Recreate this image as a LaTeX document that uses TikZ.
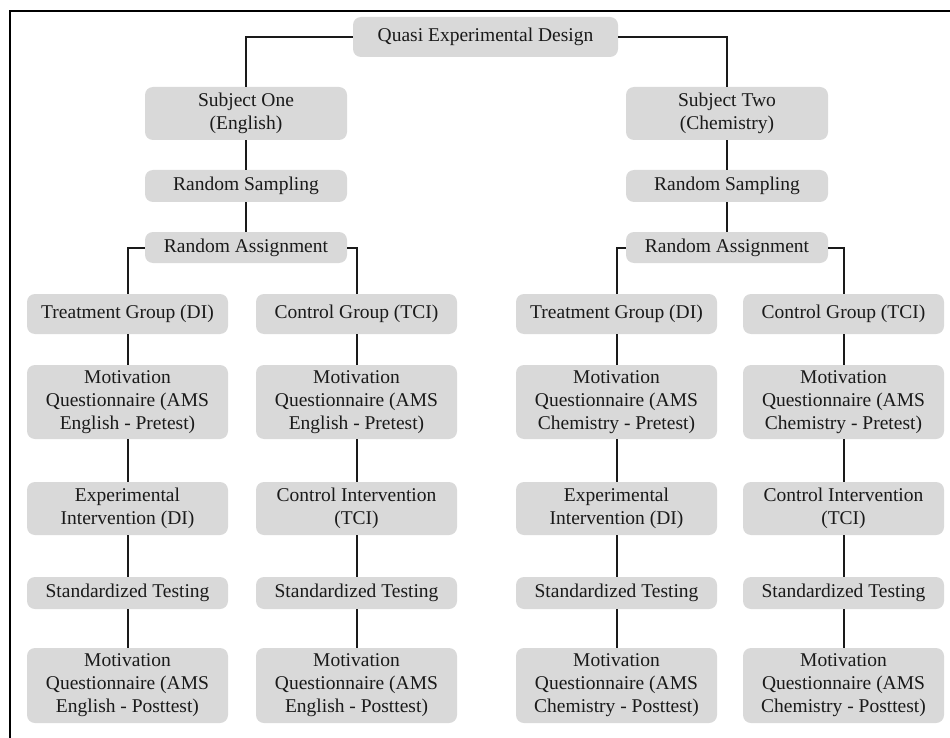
\documentclass[tikz,border=0pt]{standalone}
\usepackage{fontspec}
\setmainfont{Liberation Serif}
\definecolor{boxgray}{HTML}{D9D9D9}
\definecolor{inkgray}{HTML}{1A1A1A}

\begin{document}
\begin{tikzpicture}[x=1pt,y=-1pt,
		box/.style={fill=boxgray,rounded corners=8pt,align=center,inner sep=0pt,text=inkgray,font=\fontsize{19.5}{23}\selectfont},
		col/.style={box,minimum width=201pt},
		link/.style={line width=2pt,inkgray}]
			\useasboundingbox (0,0) rectangle (950,738);
			\draw [line width=2pt] (9.5,738) -- (9.5,11) -- (950,11);

			\node [box,minimum width=265pt,minimum height=40pt] (qed) at (485.5,37) {Quasi Experimental Design};

			% subject one
			\node [box,minimum width=202pt,minimum height=53pt] (subj1) at (246,113.5) {Subject One\\(English)};
			\node [box,minimum width=202pt,minimum height=32pt] (samp1) at (246,186) {Random Sampling};
			\node [box,minimum width=202pt,minimum height=31pt] (assign1) at (246,247.5) {Random Assignment};

			\node [col,minimum height=40pt] (treat1) at (127.5,314) {Treatment Group (DI)};
			\node [col,minimum height=74pt] (pre1t) at (127.5,402) {Motivation\\Questionnaire (AMS\\English - Pretest)};
			\node [col,minimum height=53pt] (int1t) at (127.5,508.5) {Experimental\\Intervention (DI)};
			\node [col,minimum height=32pt] (test1t) at (127.5,593) {Standardized Testing};
			\node [col,minimum height=75pt] (post1t) at (127.5,685.5) {Motivation\\Questionnaire (AMS\\English - Posttest)};

			\node [col,minimum height=40pt] (ctrl1) at (356.5,314) {Control Group (TCI)};
			\node [col,minimum height=74pt] (pre1c) at (356.5,402) {Motivation\\Questionnaire (AMS\\English - Pretest)};
			\node [col,minimum height=53pt] (int1c) at (356.5,508.5) {Control Intervention\\(TCI)};
			\node [col,minimum height=32pt] (test1c) at (356.5,593) {Standardized Testing};
			\node [col,minimum height=75pt] (post1c) at (356.5,685.5) {Motivation\\Questionnaire (AMS\\English - Posttest)};

			% subject two
			\node [box,minimum width=202pt,minimum height=53pt] (subj2) at (727,113.5) {Subject Two\\(Chemistry)};
			\node [box,minimum width=202pt,minimum height=32pt] (samp2) at (727,186) {Random Sampling};
			\node [box,minimum width=202pt,minimum height=31pt] (assign2) at (727,247.5) {Random Assignment};

			\node [col,minimum height=40pt] (treat2) at (616.5,314) {Treatment Group (DI)};
			\node [col,minimum height=74pt] (pre2t) at (616.5,402) {Motivation\\Questionnaire (AMS\\Chemistry - Pretest)};
			\node [col,minimum height=53pt] (int2t) at (616.5,508.5) {Experimental\\Intervention (DI)};
			\node [col,minimum height=32pt] (test2t) at (616.5,593) {Standardized Testing};
			\node [col,minimum height=75pt] (post2t) at (616.5,685.5) {Motivation\\Questionnaire (AMS\\Chemistry - Posttest)};

			\node [col,minimum height=40pt] (ctrl2) at (843.5,314) {Control Group (TCI)};
			\node [col,minimum height=74pt] (pre2c) at (843.5,402) {Motivation\\Questionnaire (AMS\\Chemistry - Pretest)};
			\node [col,minimum height=53pt] (int2c) at (843.5,508.5) {Control Intervention\\(TCI)};
			\node [col,minimum height=32pt] (test2c) at (843.5,593) {Standardized Testing};
			\node [col,minimum height=75pt] (post2c) at (843.5,685.5) {Motivation\\Questionnaire (AMS\\Chemistry - Posttest)};

			% connectors
			\draw [link] (qed.west) -| (subj1.north);
			\draw [link] (qed.east) -| (subj2.north);

			\draw [link] (subj1) -- (samp1) -- (assign1);
			\draw [link] (assign1.west) -| (treat1.north);
			\draw [link] (assign1.east) -| (ctrl1.north);
			\draw [link] (treat1) -- (pre1t) -- (int1t) -- (test1t) -- (post1t);
			\draw [link] (ctrl1) -- (pre1c) -- (int1c) -- (test1c) -- (post1c);

			\draw [link] (subj2) -- (samp2) -- (assign2);
			\draw [link] (assign2.west) -| (treat2.north);
			\draw [link] (assign2.east) -| (ctrl2.north);
			\draw [link] (treat2) -- (pre2t) -- (int2t) -- (test2t) -- (post2t);
			\draw [link] (ctrl2) -- (pre2c) -- (int2c) -- (test2c) -- (post2c);
		\end{tikzpicture}
\end{document}
